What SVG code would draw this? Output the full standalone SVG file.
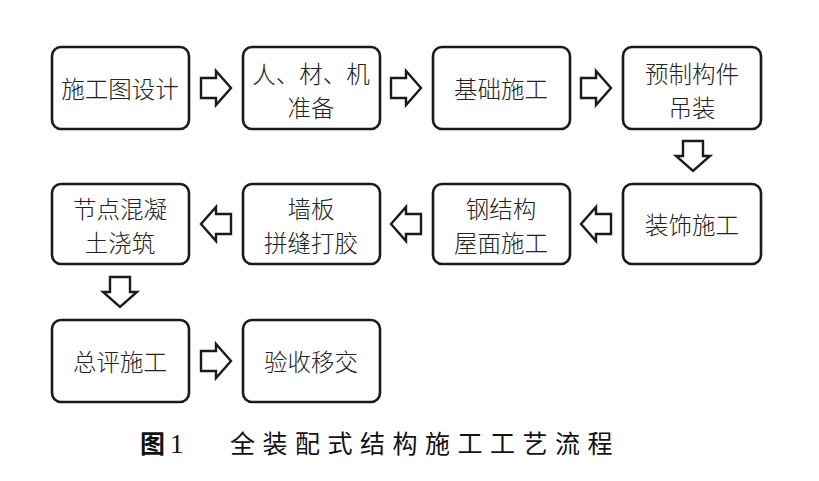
<svg xmlns="http://www.w3.org/2000/svg" width="819" height="481" viewBox="0 0 819 481">
<style>
.box{fill:#fff;stroke:#1a1a1a;stroke-width:2.6}
.arr{fill:#fff;stroke:#1a1a1a;stroke-width:2.4;stroke-linejoin:miter}
.t{font-family:"Noto Sans CJK SC","Noto Sans",sans-serif;font-size:23.5px;font-weight:300;fill:#222;text-anchor:middle;dominant-baseline:central}
.cap{font-family:"Noto Sans CJK SC","Liberation Serif",serif;font-size:25px;fill:#111}
</style>
<defs>
<polygon id="ar" class="arr" points="-15,-10 0,-10 0,-17 15,0 0,17 0,10 -15,10"/>
</defs>
<rect width="819" height="481" fill="#fff"/>
<g id="n1"><rect class="box" x="52" y="47" width="137" height="82" rx="9"/><text class="t" x="120" y="88">施工图设计</text></g>
<g id="n2"><rect class="box" x="243" y="47" width="137" height="82" rx="9"/><text class="t" x="311" y="73">人、材、机</text><text class="t" x="311" y="107">准备</text></g>
<g id="n3"><rect class="box" x="433" y="47" width="137" height="82" rx="9"/><text class="t" x="501" y="88">基础施工</text></g>
<g id="n4"><rect class="box" x="623" y="47" width="138" height="82" rx="9"/><text class="t" x="692" y="73">预制构件</text><text class="t" x="692" y="107">吊装</text></g>
<g id="n5"><rect class="box" x="623" y="184" width="138" height="80" rx="9"/><text class="t" x="692" y="224">装饰施工</text></g>
<g id="n6"><rect class="box" x="433" y="184" width="137" height="80" rx="9"/><text class="t" x="501" y="208">钢结构</text><text class="t" x="501" y="242">屋面施工</text></g>
<g id="n7"><rect class="box" x="243" y="184" width="137" height="80" rx="9"/><text class="t" x="311" y="208">墙板</text><text class="t" x="311" y="242">拼缝打胶</text></g>
<g id="n8"><rect class="box" x="52" y="184" width="137" height="80" rx="9"/><text class="t" x="120" y="208">节点混凝</text><text class="t" x="120" y="242">土浇筑</text></g>
<g id="n9"><rect class="box" x="52" y="320" width="137" height="82" rx="9"/><text class="t" x="120" y="361">总评施工</text></g>
<g id="n10"><rect class="box" x="243" y="320" width="137" height="82" rx="9"/><text class="t" x="311" y="361">验收移交</text></g>
<g id="connectors">
<use href="#ar" transform="translate(216,88)"/>
<use href="#ar" transform="translate(406,88)"/>
<use href="#ar" transform="translate(596,88)"/>
<use href="#ar" transform="translate(693,156) rotate(90)"/>
<use href="#ar" transform="translate(596,224) rotate(180)"/>
<use href="#ar" transform="translate(406,224) rotate(180)"/>
<use href="#ar" transform="translate(216,224) rotate(180)"/>
<use href="#ar" transform="translate(120,292) rotate(90)"/>
<use href="#ar" transform="translate(216,361)"/>
</g>
<text class="cap" x="140" y="453" font-weight="bold">图<tspan font-family="Liberation Serif" font-weight="normal" font-size="27" dx="5">1</tspan></text>
<text class="cap" x="230" y="453" letter-spacing="7.5">全装配式结构施工工艺流程</text>
</svg>
